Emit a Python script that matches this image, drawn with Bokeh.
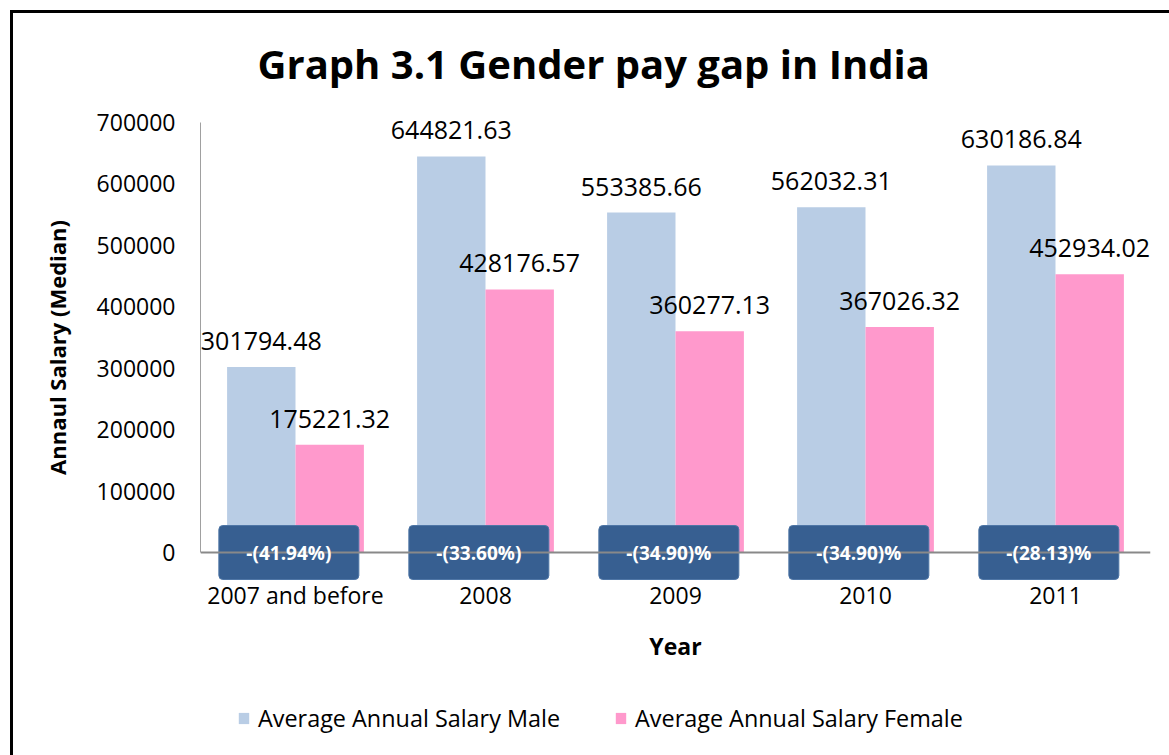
from bokeh.plotting import figure
from bokeh.layouts import column
from bokeh.models import (ColumnDataSource, FactorRange, Range1d, FixedTicker, Span,
                          LabelSet, Legend, LegendItem, BasicTickFormatter)
from bokeh.core.properties import value
from bokeh.transform import dodge
from bokeh.embed import file_html
from bokeh.resources import INLINE

# ---- data ----
years = ["2007 and before", "2008", "2009", "2010", "2011"]
male = [301794.48, 644821.63, 553385.66, 562032.31, 630186.84]
female = [175221.32, 428176.57, 360277.13, 367026.32, 452934.02]
gap_labels = ["-(41.94%)", "-(33.60%)", "-(34.90)%", "-(34.90)%", "-(28.13)%"]
y_ticks = [0, 100000, 200000, 300000, 400000, 500000, 600000, 700000]
series_names = ["Average Annual Salary Male", "Average Annual Salary Female"]

MALE_C = "#B9CDE5"
FEMALE_C = "#FF99CC"
BOX_C = "#375F91"
FONT = "Open Sans"

src = ColumnDataSource(dict(
    year=years, male=male, female=female,
    male_lbl=[f"{v:.2f}" for v in male],
    female_lbl=[f"{v:.2f}" for v in female],
    gap=gap_labels, zero=[0] * len(years),
))

ymax = y_ticks[-1]
ppx = ymax / 430               # data units per pixel
y_lo = -33 * ppx               # room below zero for the gap boxes
y_hi = ymax + 13 * ppx         # small headroom above the axis top

W, H1, H2 = 1156, 682, 60
p = figure(width=W, height=H1, x_range=FactorRange(*years, range_padding=0),
           y_range=Range1d(y_lo, y_hi), output_backend="svg", toolbar_location=None,
           min_border_left=187, min_border_right=19, min_border_top=96,
           min_border_bottom=110, title="Graph 3.1 Gender pay gap in India")

p.title.align = "left"
p.title.offset = 57
p.title.text_font = FONT
p.title.text_font_style = "bold"
p.title.text_font_size = "40px"
p.title.text_color = "black"
p.title.standoff = 38

p.grid.visible = False
p.outline_line_color = None
p.background_fill_color = "white"
p.border_fill_color = "white"

bw = 0.36
rm = p.vbar(x=dodge("year", -0.18, range=p.x_range), top="male", width=bw,
            source=src, fill_color=MALE_C, line_color=None)
rf = p.vbar(x=dodge("year", 0.18, range=p.x_range), top="female", width=bw,
            source=src, fill_color=FEMALE_C, line_color=None)

p.add_layout(Span(location=0, dimension="width", line_color="#898989", line_width=2))

for col, lbl, off in (("male", "male_lbl", -0.18), ("female", "female_lbl", 0.18)):
    p.add_layout(LabelSet(x=dodge("year", off, range=p.x_range), y=col, text=lbl,
                          source=src, text_align="center", text_baseline="middle",
                          y_offset=26, text_font=value(FONT), text_font_size="25px",
                          text_color="black"))

p.rect(x=dodge("year", -0.035, range=p.x_range), y="zero", width=140, height=54,
       width_units="screen", height_units="screen", source=src,
       fill_color=BOX_C, line_color="#4F76A6", line_width=1, border_radius=4)
p.add_layout(LabelSet(x=dodge("year", -0.035, range=p.x_range), y="zero", text="gap",
                      source=src, text_align="center", text_baseline="middle",
                      text_font=value(FONT), text_font_size="19px",
                      text_font_style="bold", text_color="white"))

# y axis
ya = p.yaxis[0]
ya.ticker = FixedTicker(ticks=y_ticks)
ya.formatter = BasicTickFormatter(use_scientific=False)
ya.bounds = (0, ymax)
ya.axis_line_color = "#A0A0A0"
ya.axis_line_width = 1
ya.major_tick_line_color = None
ya.minor_tick_line_color = None
ya.major_tick_out = 0
ya.major_label_standoff = 25
ya.major_label_text_font = FONT
ya.major_label_text_font_size = "23px"
ya.major_label_text_color = "black"
ya.axis_label = "Annaul Salary (Median)"
ya.axis_label_text_font = FONT
ya.axis_label_text_font_style = "bold"
ya.axis_label_text_font_size = "22px"
ya.axis_label_standoff = 22
ya.axis_label_text_color = "black"

xa = p.xaxis[0]
xa.axis_line_color = None
xa.major_tick_line_color = None
xa.minor_tick_line_color = None
xa.major_tick_out = 0
xa.major_label_standoff = -7
xa.major_label_text_font = FONT
xa.major_label_text_font_size = "23px"
xa.major_label_text_color = "black"
xa.axis_label = "Year"
xa.axis_label_text_font = FONT
xa.axis_label_text_font_style = "bold"
xa.axis_label_text_font_size = "23px"
xa.axis_label_standoff = 16
xa.axis_label_text_color = "black"

# legend in its own strip below the chart (proxy bars lie far outside the visible range)
pl = figure(width=W, height=H2, output_backend="svg", toolbar_location=None,
            x_axis_type=None, y_axis_type=None, min_border=0,
            x_range=Range1d(0, 1), y_range=Range1d(0, 1))
pl.grid.visible = False
pl.outline_line_color = None
lm = pl.vbar(x=[-50], bottom=[-60], top=[-50], width=0.1, fill_color=MALE_C, line_color=None)
lf = pl.vbar(x=[-50], bottom=[-60], top=[-50], width=0.1, fill_color=FEMALE_C, line_color=None)
legend = Legend(items=[LegendItem(label=series_names[0], renderers=[lm]),
                       LegendItem(label=series_names[1], renderers=[lf])],
                orientation="horizontal", location=(37, 21), padding=0, margin=0,
                label_text_font=FONT, label_text_font_size="23.4px", label_text_color="black",
                glyph_width=13, glyph_height=14, label_standoff=8, spacing=54,
                border_line_color=None, background_fill_alpha=0)
pl.add_layout(legend)

layout = column(p, pl, spacing=0,
                styles={"border-left": "3px solid black", "border-top": "3px solid black",
                        "margin-left": "10px", "margin-top": "10px"})

open("out.html", "w").write(file_html(layout, INLINE))
